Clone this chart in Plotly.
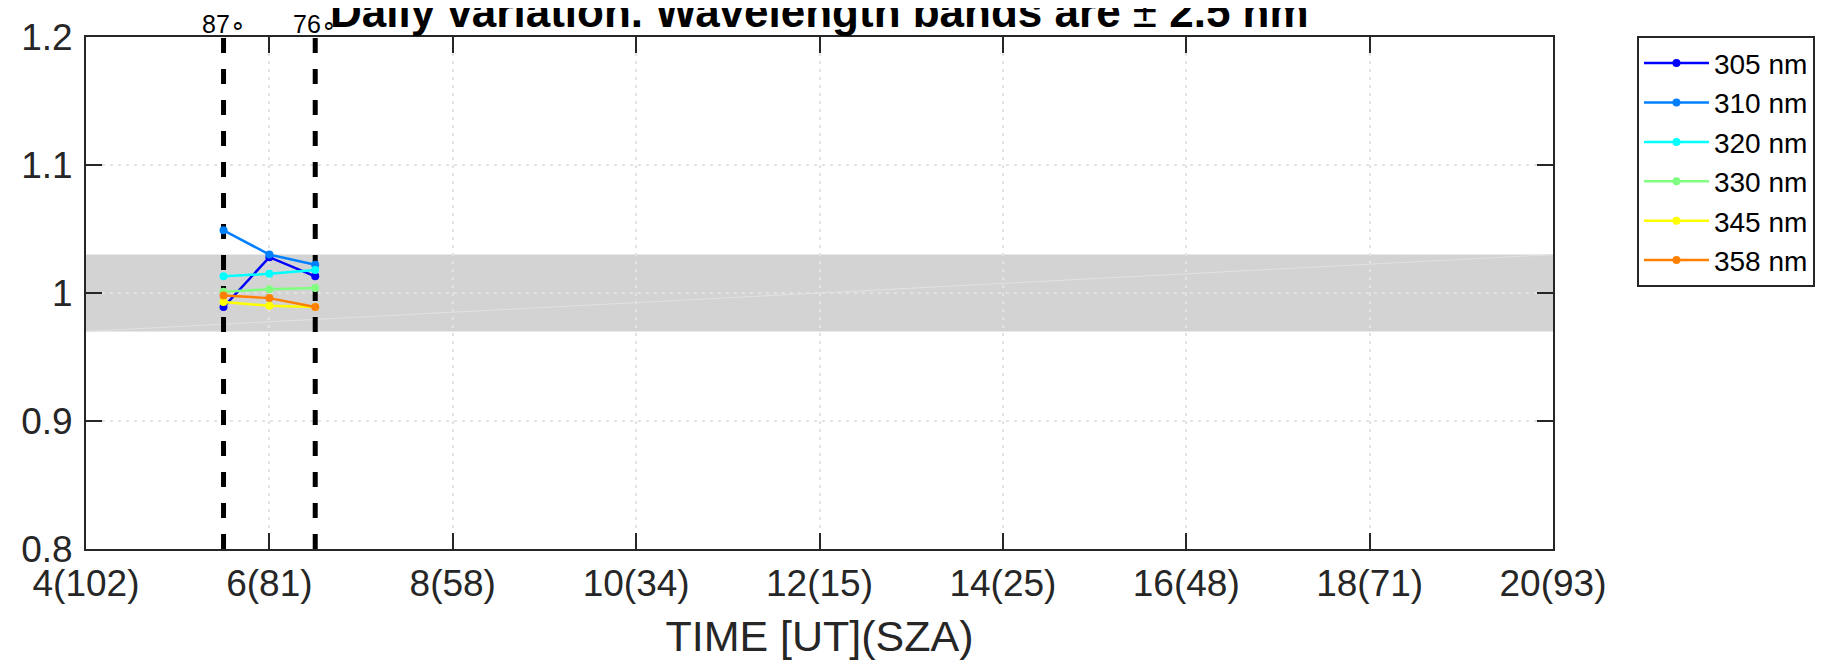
import plotly.graph_objects as go

# ---- data ----
time_ut = [5.5, 6.0, 6.5]
wavelengths = ["305 nm", "310 nm", "320 nm", "330 nm", "345 nm", "358 nm"]
ratio_305 = [0.989, 1.028, 1.013]
ratio_310 = [1.049, 1.030, 1.022]
ratio_320 = [1.013, 1.015, 1.018]
ratio_330 = [1.001, 1.003, 1.004]
ratio_345 = [0.993, 0.990, 0.989]
ratio_358 = [0.998, 0.996, 0.989]
series = [ratio_305, ratio_310, ratio_320, ratio_330, ratio_345, ratio_358]
colors = ["#0000ff", "#0080ff", "#00ffff", "#80ff80", "#ffff00", "#ff8000"]

x_ticks = [4, 6, 8, 10, 12, 14, 16, 18, 20]
x_ticklabels = ["4(102)", "6(81)", "8(58)", "10(34)", "12(15)", "14(25)", "16(48)", "18(71)", "20(93)"]
y_ticks = [0.8, 0.9, 1.0, 1.1, 1.2]
y_ticklabels = ["0.8", "0.9", "1", "1.1", "1.2"]

band_low, band_high = 0.97, 1.03
x_range = [4, 20]
y_range = [0.8, 1.2]

sza_mark_times = [5.5, 6.5]
sza_mark_labels = ["87\u2218", "76\u2218"]

FONT = "Liberation Sans, Arial, Helvetica, sans-serif"
W, H = 1842, 665
# target plot box in screen pixels
L, R, T, B = 85.5, 289, 36.6, 116.3
SHIFT = 8  # browser body margin

fig = go.Figure()

# tolerance band
fig.add_shape(type="rect", xref="x", yref="y", x0=x_range[0], x1=x_range[1],
              y0=band_low, y1=band_high, fillcolor="#d3d3d3", line_width=0, layer="below")
# faint polygon diagonal edge
fig.add_trace(go.Scatter(x=x_range, y=[band_low, band_high], mode="lines",
                         line=dict(color="#e2e2e2", width=1), showlegend=False, hoverinfo="skip"))

# SZA marker lines
for t in sza_mark_times:
    fig.add_trace(go.Scatter(x=[t, t], y=y_range, mode="lines",
                             line=dict(color="black", width=5, dash="15px,16px"),
                             showlegend=False, hoverinfo="skip"))
for t, lab in zip(sza_mark_times, sza_mark_labels):
    fig.add_annotation(x=t, y=1, xref="x", yref="paper", text=lab, showarrow=False,
                       yanchor="bottom", xanchor="center", yshift=-3,
                       font=dict(family=FONT, size=25, color="black"))

for name, vals, c in zip(wavelengths, series, colors):
    fig.add_trace(go.Scatter(x=time_ut, y=vals, mode="lines+markers", name=name,
                             line=dict(color=c, width=2.5),
                             marker=dict(color=c, size=8, symbol="circle")))

axis_common = dict(showline=True, linecolor="#262626", linewidth=2, mirror="ticks",
                   ticks="inside", ticklen=16, tickwidth=2, tickcolor="#262626",
                   showgrid=True, gridcolor="#e3e3e3", gridwidth=2, griddash="3px,5px",
                   zeroline=False, tickfont=dict(family=FONT, size=37, color="#262626"))

fig.update_xaxes(range=x_range, tickmode="array", tickvals=x_ticks, ticktext=x_ticklabels,
                 title=dict(text="TIME [UT](SZA)", font=dict(family=FONT, size=43, color="#262626"),
                            standoff=17),
                 ticklabelstandoff=1, **axis_common)
fig.update_yaxes(range=y_range, tickmode="array", tickvals=y_ticks, ticktext=y_ticklabels,
                 ticklabelstandoff=4, **axis_common)

plot_h = H - T - B
plot_w = W - L - R
fig.add_annotation(x=0.5, xref="paper", y=1 + (T - 38) / plot_h, yref="paper",
                   text="<b>Daily variation. Wavelength bands are</b> \u00b1 <b>2.5 nm</b>",
                   showarrow=False, xanchor="center", yanchor="bottom",
                   font=dict(family=FONT, size=44, color="black"))

fig.update_layout(
    width=W, height=H,
    margin=dict(l=L - SHIFT, r=R + SHIFT, t=T - SHIFT, b=B + SHIFT, autoexpand=False),
    paper_bgcolor="white", plot_bgcolor="white",
    font=dict(family=FONT, color="#262626"),
    legend=dict(x=(1637 - L) / plot_w, y=1 + (T - 36) / plot_h, xanchor="left", yanchor="top",
                bgcolor="white", bordercolor="#262626", borderwidth=2,
                font=dict(family=FONT, size=28, color="black"), itemwidth=65,
                tracegroupgap=0),
    showlegend=True,
)

fig.write_html("out.html")
